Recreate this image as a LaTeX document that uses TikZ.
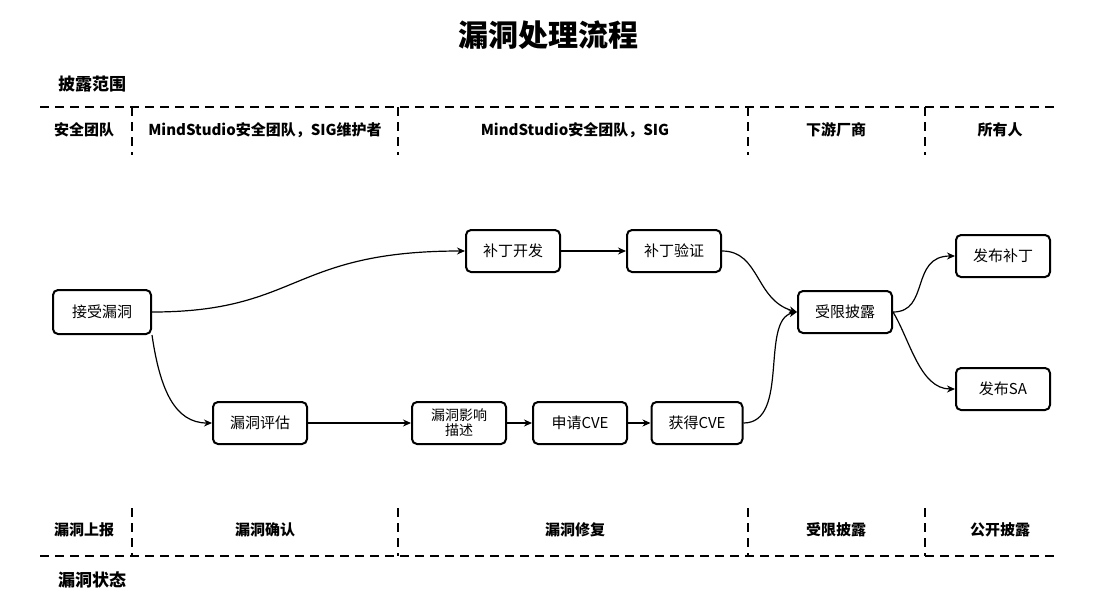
\documentclass[tikz,border=0pt]{standalone}
\usepackage{fontspec}
\setmainfont{Noto Sans CJK SC}
\usetikzlibrary{arrows.meta,positioning}
\begin{document}
\begin{tikzpicture}[
    x=1pt, y=-1pt,
    stepbox/.style={rectangle, rounded corners=5pt, draw=black, line width=2pt, minimum width=94pt, minimum height=42pt, align=center, font=\fontsize{15}{16}\selectfont, inner sep=1pt},
    arrow/.style={-{Stealth[length=8pt,width=7pt]}, line width=1.2pt},
    sep/.style={dashed, line width=2pt, dash pattern=on 9pt off 6pt},
    lab/.style={font=\bfseries\fontsize{15}{17}\selectfont}
]
    \useasboundingbox (0,0) rectangle (1113,606);
    \node[font=\bfseries\fontsize{30}{32}\selectfont] (title) at (548,35) {漏洞处理流程};

    % disclosure scope
    \node[lab, font=\bfseries\fontsize{17}{19}\selectfont] (scope) at (92,84) {披露范围};
    \draw[sep] (40,107) -- (1055,107);
    \foreach \x in {132,398,748,925} \draw[sep] (\x,107) -- (\x,155);
    \node[lab] (s1) at (84,130) {安全团队};
    \node[lab] (s2) at (265,130) {MindStudio安全团队，SIG维护者};
    \node[lab] (s3) at (575,130) {MindStudio安全团队，SIG};
    \node[lab] (s4) at (836,130) {下游厂商};
    \node[lab] (s5) at (1000,130) {所有人};

    % vulnerability state
    \draw[sep] (40,556) -- (1055,556);
    \foreach \x in {132,398,748,925} \draw[sep] (\x,508) -- (\x,556);
    \node[lab] (t1) at (84,530) {漏洞上报};
    \node[lab] (t2) at (265,530) {漏洞确认};
    \node[lab] (t3) at (575,530) {漏洞修复};
    \node[lab] (t4) at (836,530) {受限披露};
    \node[lab] (t5) at (1000,530) {公开披露};
    \node[lab, font=\bfseries\fontsize{17}{19}\selectfont] (state) at (92,580) {漏洞状态};

    % steps
    \node[stepbox, minimum width=98pt, minimum height=44pt] (accept) at (102,312) {接受漏洞};
    \node[stepbox] (dev) at (513,251) {补丁开发};
    \node[stepbox] (verify) at (674,251) {补丁验证};
    \node[stepbox] (limited) at (845,312) {受限披露};
    \node[stepbox] (patch) at (1003,256) {发布补丁};
    \node[stepbox] (sa) at (1003,389) {发布SA};
    \node[stepbox] (assess) at (260,423) {漏洞评估};
    \node[stepbox, font=\fontsize{14}{15}\selectfont] (impact) at (459,423) {漏洞影响\\描述};
    \node[stepbox] (apply) at (580,423) {申请CVE};
    \node[stepbox, minimum width=91pt] (get) at (697,423) {获得CVE};

    \draw[arrow] (accept.east) .. controls (300,312) and (290,251) .. (dev.west);
    \draw[arrow] (dev) -- (verify);
    \draw[arrow] (accept.south east) .. controls (160,390) and (175,423) .. (assess.west);
    \draw[arrow] (assess) -- (impact);
    \draw[arrow] (impact) -- (apply);
    \draw[arrow] (apply) -- (get);
    \draw[arrow] (get.east) .. controls (790,423) and (760,320) .. (limited.west);
    \draw[arrow] (verify.east) .. controls (760,251) and (755,300) .. (limited.west);
    \draw[arrow] (limited.east) .. controls (930,312) and (910,256) .. (patch.west);
    \draw[arrow] (limited.east) .. controls (910,340) and (920,389) .. (sa.west);
\end{tikzpicture}
\end{document}
